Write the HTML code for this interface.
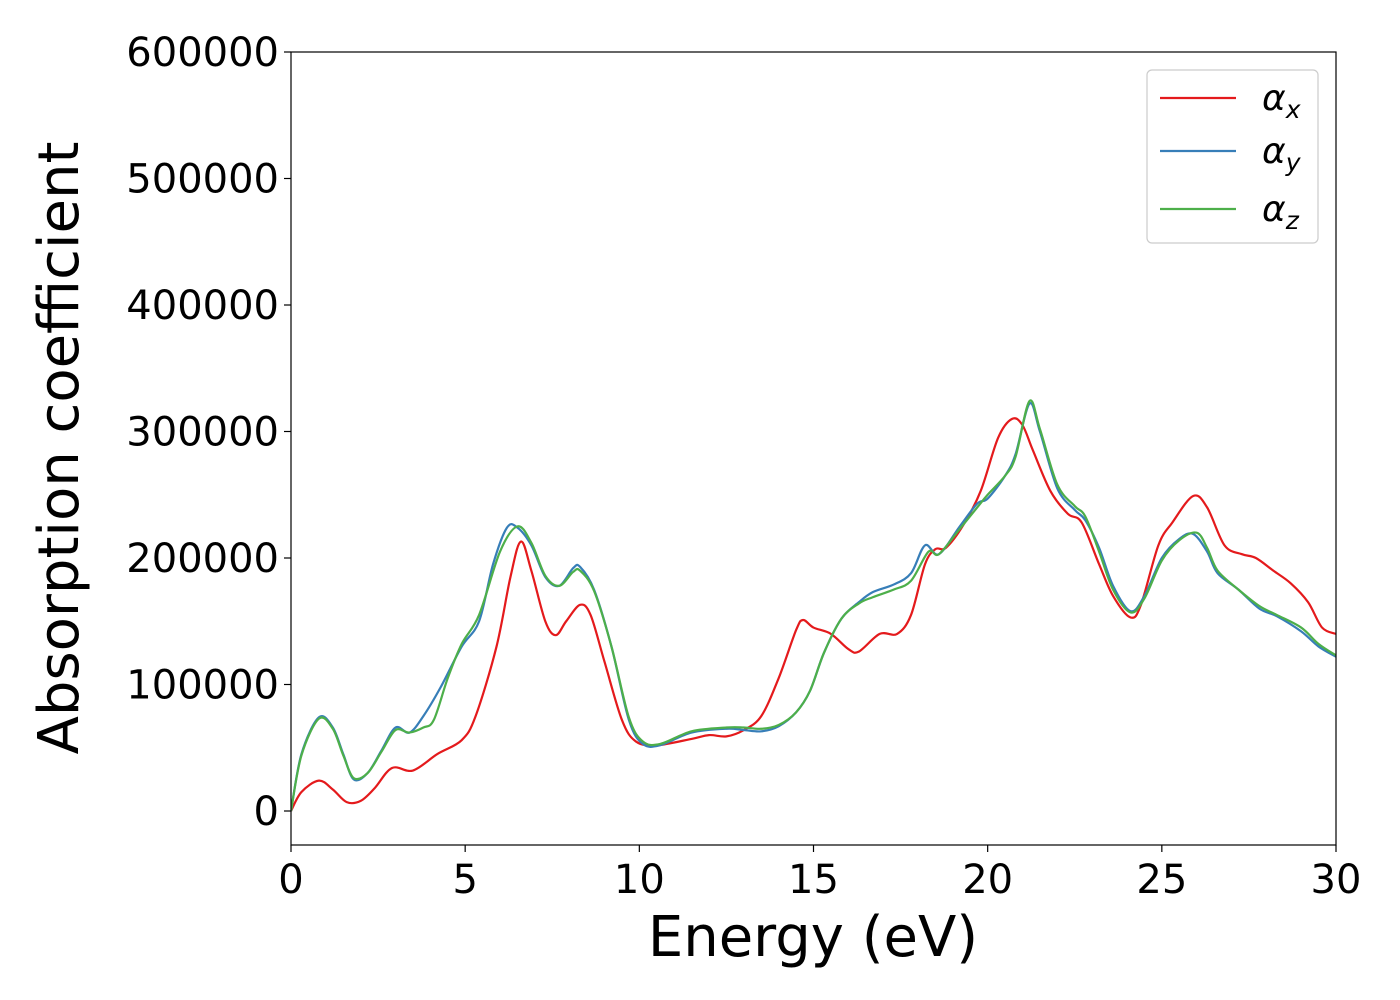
<!DOCTYPE html>
<html><head><meta charset="utf-8"><style>
html,body{margin:0;padding:0;background:#fff;}
svg{display:block;font-family:"DejaVu Sans","Liberation Sans",sans-serif;}
</style></head><body>
<svg id="chart" width="1400" height="1000" xmlns="http://www.w3.org/2000/svg">
<g id="plot"></g>
</svg>
<script>
const xTicks=[0,5,10,15,20,25,30];
const yTicks=[0,100000,200000,300000,400000,500000,600000];
const xE=[0,0.3,0.8,1.2,1.6,2.0,2.4,2.9,3.5,4.2,4.9,5.3,5.9,6.3,6.6,6.9,7.3,7.6,7.9,8.3,8.6,9.0,9.5,9.9,10.5,11.5,12.0,12.5,13.0,13.5,14.0,14.5,14.7,15.0,15.5,16.0,16.3,16.9,17.4,17.8,18.2,18.5,18.8,19.3,19.8,20.3,20.7,21.0,21.3,21.8,22.3,22.7,23.2,23.6,24.1,24.4,24.9,25.3,25.9,26.3,26.8,27.3,27.7,28.2,28.7,29.2,29.6,30];
const xV=[0,15,24,17,7,8,18,34,32,45,56,75,130,185,213,190,150,139,150,163,155,118,72,55,52,57,60,59,64,75,105,143,151,145,140,128,126,140,140,155,195,207,208,226,253,295,310,305,285,253,235,228,195,170,153,163,210,228,249,240,210,203,200,190,180,165,145,140];
const yE=[0,0.3,0.8,1.2,1.5,1.8,2.2,2.6,3.0,3.4,3.8,4.3,4.9,5.4,5.8,6.2,6.5,6.9,7.3,7.7,8.1,8.3,8.7,9.2,9.7,10.1,10.6,11.5,12.5,13.0,13.5,14.0,14.5,14.9,15.3,15.8,16.3,16.7,17.3,17.8,18.2,18.6,19.2,19.7,20.0,20.5,20.8,21.2,21.5,22.0,22.5,22.8,23.2,23.6,24.1,24.5,25.0,25.5,25.9,26.3,26.6,27.2,27.8,28.3,29.0,29.5,30];
const yV=[0,45,74,66,45,25,30,48,66,62,75,98,130,150,195,224,224,210,185,178,192,193,175,130,72,53,52,62,65,64,63,67,78,95,125,152,165,173,179,188,210,203,225,243,247,265,282,322,300,255,238,230,208,178,158,170,200,215,219,205,188,175,160,154,142,130,122];
const zE=[0,0.3,0.8,1.2,1.5,1.8,2.2,2.6,3.0,3.4,3.8,4.1,4.5,4.9,5.4,6.0,6.5,6.9,7.3,7.7,8.1,8.3,8.7,9.2,9.7,10.1,10.6,11.5,12.5,13.0,13.5,14.0,14.5,14.9,15.3,15.8,16.3,16.7,17.3,17.8,18.3,18.6,19.2,19.7,20.0,20.5,20.8,21.2,21.5,22.0,22.5,22.8,23.2,23.6,24.1,24.5,25.0,25.5,26.0,26.3,26.6,27.2,27.8,28.3,29.0,29.5,30];
const zV=[0,44,73,65,44,26,30,47,64,62,66,72,105,132,155,205,225,212,186,178,189,190,174,130,74,55,53,63,66,66,65,68,78,95,125,152,164,169,175,182,205,203,223,240,250,265,280,324,302,258,241,233,205,175,157,168,198,214,220,208,190,175,162,155,145,132,123];
const L=291,R=1336,T=52,B=845;
const xs=v=>L+(v/30)*(R-L);
const ys=v=>811-(v/100000)*126.5;
const NS="http://www.w3.org/2000/svg";
const svg=document.getElementById('chart');
function mk(t,a,p){const e=document.createElementNS(NS,t);for(const k in a)e.setAttribute(k,a[k]);(p||svg).appendChild(e);return e;}
function path(E,V){const p=E.map((e,i)=>[xs(e),ys(V[i]*1000)]);let d=`M${p[0][0]},${p[0][1]}`;
for(let i=0;i<p.length-1;i++){const p0=p[Math.max(0,i-1)],p1=p[i],p2=p[i+1],p3=p[Math.min(p.length-1,i+2)];
d+=` C${p1[0]+(p2[0]-p0[0])/6},${p1[1]+(p2[1]-p0[1])/6} ${p2[0]-(p3[0]-p1[0])/6},${p2[1]-(p3[1]-p1[1])/6} ${p2[0]},${p2[1]}`;}return d;}
const clip=mk('clipPath',{id:'cp'});mk('rect',{x:L,y:T,width:R-L,height:B-T},clip);
const series=[[xE,xV,'#e41a1c','series-alpha-x'],[yE,yV,'#377eb8','series-alpha-y'],[zE,zV,'#4daf4a','series-alpha-z']];
series.forEach(s=>{const e=mk('path',{d:path(s[0],s[1]),fill:'none',stroke:s[2],'stroke-width':2.2,'clip-path':'url(#cp)'});

});
const fr=mk('rect',{x:L,y:T,width:R-L,height:B-T,fill:'none',stroke:'#000','stroke-width':1.2});


xTicks.forEach(t=>{mk('line',{x1:xs(t),x2:xs(t),y1:B,y2:B+7,stroke:'#000','stroke-width':1.2});
const tx=mk('text',{x:xs(t),y:B+48,'text-anchor':'middle','font-size':40});tx.textContent=t;

});
yTicks.forEach(t=>{mk('line',{x1:L-7,x2:L,y1:ys(t),y2:ys(t),stroke:'#000','stroke-width':1.2});
const tx=mk('text',{x:L-12,y:ys(t)+14,'text-anchor':'end','font-size':40});tx.textContent=t;

});
const xl=mk('text',{x:813,y:956,'text-anchor':'middle','font-size':56});xl.textContent='Energy (eV)';


const yl=mk('text',{x:0,y:0,'text-anchor':'middle','font-size':56,transform:'translate(78,448) rotate(-90)'});yl.textContent='Absorption coefficient';


const lg=mk('g',{});


mk('rect',{x:1147,y:70,width:171,height:173,rx:5,fill:'#fff',stroke:'#ccc','stroke-width':1.2},lg);
[['x','#e41a1c',98],['y','#377eb8',151],['z','#4daf4a',209]].forEach(e=>{
const g=mk('g',{},lg);


mk('line',{x1:1160,x2:1236,y1:e[2],y2:e[2],stroke:e[1],'stroke-width':2.2},g);
const t=mk('text',{x:1262,y:e[2]+12,'font-size':36,'font-style':'italic'},g);
t.innerHTML='α<tspan font-size="25" dy="8">'+e[0]+'</tspan>';});
</script>
</body></html>
